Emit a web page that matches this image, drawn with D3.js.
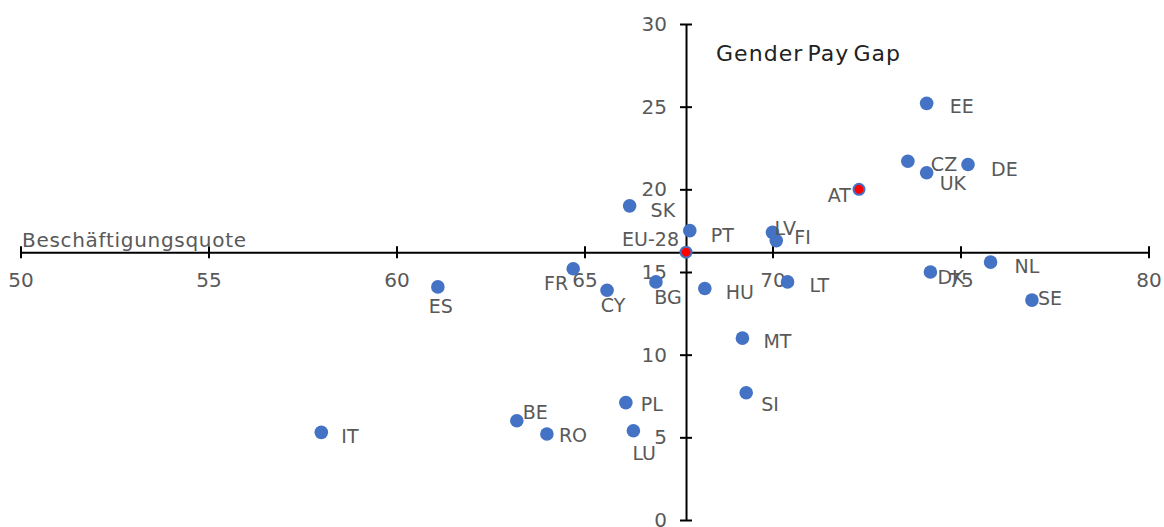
<!DOCTYPE html>
<html>
<head>
<meta charset="utf-8">
<script src="https://cdn.jsdelivr.net/npm/d3@7"></script>
<style>
    body { margin: 0; background: #fff; }
    text { font-family: "DejaVu Sans", sans-serif; }
</style>
</head>
<body>
<div id="chart"></div>
<script>
// Employment rate (x) vs gender pay gap (y)
const countries = ["EE", "CZ", "UK", "DE", "AT", "NL", "DK", "SE", "SK", "PT", "LV", "FI", "EU-28",
    "FR", "ES", "CY", "BG", "HU", "LT", "MT", "SI", "IT", "BE", "RO", "PL", "LU"];
const employment = [74.1, 73.6, 74.1, 75.2, 72.3, 75.8, 74.2, 76.9, 66.2, 67.8, 70.0, 70.1, 67.7,
    64.7, 61.1, 65.6, 66.9, 68.2, 70.4, 69.2, 69.3, 58.0, 63.2, 64.0, 66.1, 66.3];
const payGap = [25.2, 21.7, 21.0, 21.5, 20.0, 15.6, 15.0, 13.3, 19.0, 17.5, 17.4, 16.9, 16.2,
    15.2, 14.1, 13.9, 14.4, 14.0, 14.4, 11.0, 7.7, 5.3, 6.0, 5.2, 7.1, 5.4];
const highlighted = ["AT", "EU-28"];
const xTicks = [50, 55, 60, 65, 70, 75, 80];
const yTicks = [0, 5, 10, 15, 20, 25, 30];

// label placement: [dx, dy, anchor]
const labelPos = {
    "EE": [23, 10, "start"], "CZ": [23, 10, "start"], "UK": [13, 17, "start"], "DE": [23, 11, "start"],
    "AT": [-8, 13, "end"], "NL": [24, 11, "start"], "DK": [7, 12, "start"], "SE": [6, 5, "start"],
    "SK": [21, 11, "start"], "PT": [21, 11, "start"], "LV": [2, 3, "start"], "FI": [18, 3, "start"],
    "EU-28": [-7, -6, "end"], "FR": [-5, 21, "end"], "ES": [3, 26, "middle"], "CY": [6, 22, "middle"],
    "BG": [12, 22, "middle"], "HU": [21, 10, "start"], "LT": [22, 10, "start"], "MT": [21, 10, "start"],
    "SI": [15, 18, "start"], "IT": [20, 11, "start"], "BE": [6, -2, "start"], "RO": [12, 8, "start"],
    "PL": [15, 8, "start"], "LU": [-1, 29, "start"]
};

const data = countries.map((c, i) => ({ country: c, x: employment[i], y: payGap[i] }));
const eu = data.find(d => d.country === "EU-28");

const width = 1164, height = 527;
const svg = d3.select("#chart").append("svg")
    .attr("width", width)
    .attr("height", height);

const x = d3.scaleLinear().domain([50, 80]).range([20.5, 1148.5]);
const y = d3.scaleLinear().domain([0, 30]).range([520, 24]);

const tickColor = "#595959";

// x axis crosses at the EU-28 pay gap
const xAxis = svg.append("g")
    .attr("transform", `translate(0, ${y(eu.y)})`)
    .call(d3.axisBottom(x).tickValues(xTicks).tickSizeOuter(0).tickSizeInner(6));
xAxis.selectAll(".tick line").attr("y1", -6).attr("y2", 6).attr("stroke", "#000").attr("stroke-width", 2);
xAxis.select(".domain").attr("stroke", "#000").attr("stroke-width", 2);
xAxis.selectAll(".tick text")
    .attr("y", 35).attr("dy", 0)
    .style("font-size", "20px")
    .attr("fill", tickColor);

// y axis crosses at the EU-28 employment rate
const yAxis = svg.append("g")
    .attr("transform", `translate(${x(eu.x)}, 0)`)
    .call(d3.axisLeft(y).tickValues(yTicks).tickSizeOuter(0).tickSizeInner(6));
yAxis.selectAll(".tick line").attr("x1", -6).attr("x2", 6).attr("stroke", "#000").attr("stroke-width", 2);
yAxis.select(".domain").attr("stroke", "#000").attr("stroke-width", 2);
yAxis.selectAll(".tick text")
    .attr("x", -19)
    .style("font-size", "20px")
    .attr("fill", tickColor);

svg.append("text")
    .attr("x", 22)
    .attr("y", 247)
    .attr("textLength", 224)
    .style("font-size", "20px")
    .attr("fill", tickColor)
    .text("Beschäftigungsquote");

svg.append("text")
    .attr("x", 716)
    .attr("y", 61)
    .attr("textLength", 184)
    .style("font-size", "22px")
    .style("word-spacing", "-4px")
    .attr("fill", "#222")
    .text("Gender Pay Gap");

// points
svg.selectAll(".dot")
    .data(data)
    .enter()
    .append("circle")
    .attr("class", "dot")
    .attr("cx", d => x(d.x))
    .attr("cy", d => y(d.y))
    .attr("r", d => highlighted.includes(d.country) ? 5.5 : 6.8)
    .attr("fill", d => highlighted.includes(d.country) ? "#ff0000" : "#4472c4")
    .attr("stroke", "#4472c4")
    .attr("stroke-width", d => highlighted.includes(d.country) ? 2 : 0);

// labels
svg.selectAll(".label")
    .data(data)
    .enter()
    .append("text")
    .attr("class", "label")
    .attr("x", d => x(d.x) + labelPos[d.country][0])
    .attr("y", d => y(d.y) + labelPos[d.country][1])
    .attr("text-anchor", d => labelPos[d.country][2])
    .style("font-size", "19px")
    .attr("fill", tickColor)
    .text(d => d.country);
</script>
</body>
</html>
